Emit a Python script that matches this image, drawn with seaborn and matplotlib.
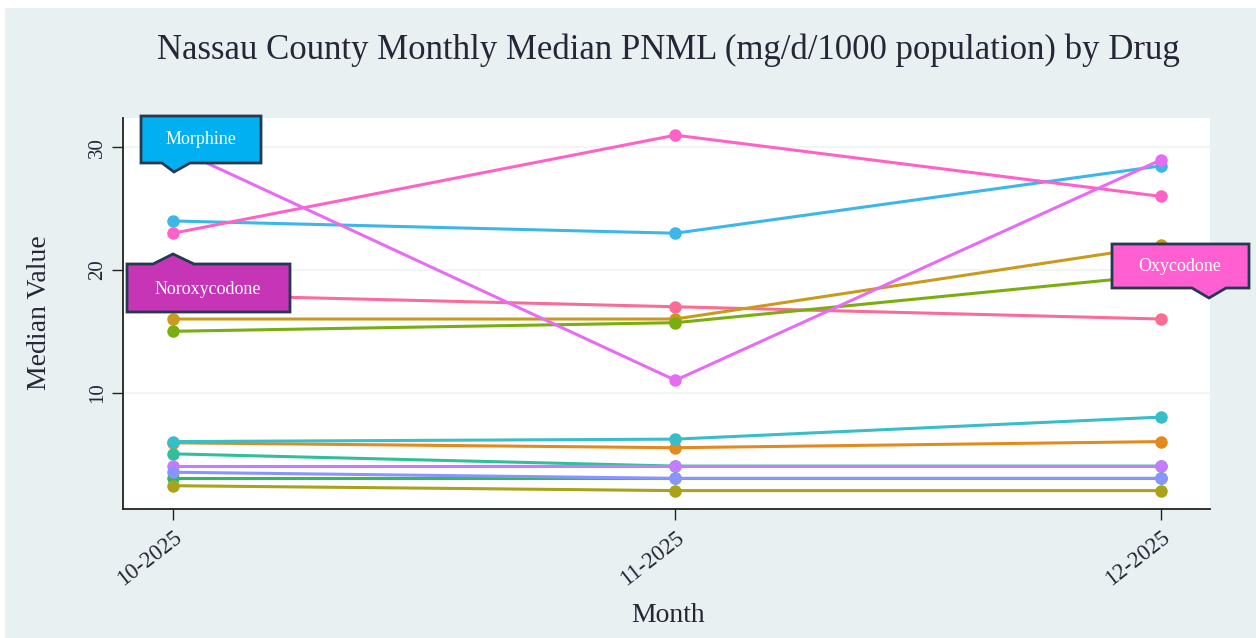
import pandas as pd
import seaborn as sns
import matplotlib.pyplot as plt
import matplotlib.dates as mdates
from matplotlib.patches import Polygon, Rectangle

# data (mg/d/1000 population)
months = ["2025-10-01", "2025-11-01", "2025-12-01"]
tramadol = [5.9, 5.5, 6.0]
fentanyl = [6.0, 6.2, 8.0]
methadone = [5.0, 4.0, 4.0]
codeine = [4.0, 4.0, 4.0]
buprenorphine = [3.0, 3.0, 3.0]
hydrocodone = [3.5, 3.0, 3.0]
tapentadol = [2.4, 2.0, 2.0]
norfentanyl = [18.0, 17.0, 16.0]
hydromorphone = [16.0, 16.0, 22.0]
oxymorphone = [15.0, 15.7, 19.6]
morphine = [24.0, 23.0, 28.5]
oxycodone = [23.0, 31.0, 26.0]
noroxycodone = [30.0, 11.0, 29.0]

series = {
    "Tramadol": tramadol, "Fentanyl": fentanyl, "Methadone": methadone,
    "Codeine": codeine, "Buprenorphine": buprenorphine, "Hydrocodone": hydrocodone,
    "Tapentadol": tapentadol, "Norfentanyl": norfentanyl, "Hydromorphone": hydromorphone,
    "Oxymorphone": oxymorphone, "Morphine": morphine, "Oxycodone": oxycodone,
    "Noroxycodone": noroxycodone,
}
colors = {
    "Tramadol": "#E38A1F", "Fentanyl": "#38BEC6", "Methadone": "#2FC09A",
    "Codeine": "#C77CFF", "Buprenorphine": "#2DBB60", "Hydrocodone": "#8A94FF",
    "Tapentadol": "#A8A21C", "Norfentanyl": "#FA6C98", "Hydromorphone": "#C89B1E",
    "Oxymorphone": "#7AAD10", "Morphine": "#3DB6E8", "Oxycodone": "#FF62C6",
    "Noroxycodone": "#E76BF3",
}

rows = []
for drug, vals in series.items():
    for m, v in zip(months, vals):
        rows.append({"Month": pd.Timestamp(m), "Drug": drug, "Median": v})
df = pd.DataFrame(rows)

W, H = 1256, 638
bg = "#E8F0F2"
txt = "#262636"

sns.set_style("white")
plt.rcParams["font.family"] = ["Liberation Serif", "DejaVu Serif"]

fig = plt.figure(figsize=(W / 100, H / 100), dpi=100, facecolor="white")
fig.add_artist(Rectangle((5 / W, 0), 1 - 5 / W, 1 - 8 / H, transform=fig.transFigure,
                         facecolor=bg, edgecolor="none", zorder=-10))
ax = fig.add_axes([123 / W, 1 - 509 / H, (1210 - 123) / W, (509 - 118) / H])
ax.set_facecolor("white")

sns.lineplot(data=df, x="Month", y="Median", hue="Drug", hue_order=list(series),
             palette=colors, marker="o", markersize=9, markeredgewidth=0,
             linewidth=2.2, legend=False, ax=ax)

ax.set_xlim(pd.Timestamp("2025-10-01") - pd.Timedelta(days=3.1),
            pd.Timestamp("2025-12-01") + pd.Timedelta(days=3.0))
ax.set_ylim(0.5, 32.4)
ax.set_xticks(pd.to_datetime(months))
ax.xaxis.set_major_formatter(mdates.DateFormatter("%m-%Y"))
ax.set_yticks([10, 20, 30])
ax.grid(axis="y", color="#eef3f3", linewidth=1.2)
ax.grid(axis="x", visible=False)

for s in ["top", "right"]:
    ax.spines[s].set_visible(False)
for s in ["left", "bottom"]:
    ax.spines[s].set_color("#222222")
    ax.spines[s].set_linewidth(1.3)

ax.tick_params(axis="both", length=8, width=1, color="#222222", labelcolor=txt,
               labelsize=15, left=True, bottom=True)
ax.tick_params(axis="x", labelsize=16.5, pad=5)
plt.setp(ax.get_xticklabels(), rotation=38, ha="right", rotation_mode="anchor")
plt.setp(ax.get_yticklabels(), rotation=90, va="center")

ax.set_xlabel("")
ax.set_ylabel("")
fig.text(668 / W, 1 - 615 / H, "Month", ha="center", va="center", fontsize=20, color=txt)
fig.text(40 / W, 1 - 313 / H, "Median Value", ha="center", va="center", rotation=90,
         fontsize=20, color=txt)
fig.text(668 / W, 1 - 50 / H,
         "Nassau County Monthly Median PNML (mg/d/1000 population) by Drug",
         ha="center", va="center", fontsize=25, color=txt)


def callout(x0, x1, y0, y1, n0, n1, tip, side, face, label, cx, cy):
    tx, ty = tip
    if side == "bottom":
        pts = [(x0, y0), (x1, y0), (x1, y1), (n1, y1), (tx, ty), (n0, y1), (x0, y1)]
    else:
        pts = [(x0, y0), (n0, y0), (tx, ty), (n1, y0), (x1, y0), (x1, y1), (x0, y1)]
    pts = [(x / W, 1 - y / H) for x, y in pts]
    fig.add_artist(Polygon(pts, closed=True, transform=fig.transFigure, facecolor=face,
                           edgecolor="#243a52", linewidth=2, zorder=20))
    fig.text(cx / W, 1 - cy / H, label, ha="center", va="center", fontsize=13,
             color="white", zorder=21)


callout(141, 261, 116, 163, 162, 190, (174, 172), "bottom", "#00B0F0", "Morphine", 201, 140)
callout(127, 290, 264, 312, 153, 194, (173, 254), "top", "#C535B5", "Noroxycodone", 208, 289)
callout(1112, 1249, 244, 288, 1192, 1226, (1209, 298), "bottom", "#FF5FD0", "Oxycodone", 1180, 266)

fig.savefig("out.png", dpi=100, facecolor=fig.get_facecolor())
